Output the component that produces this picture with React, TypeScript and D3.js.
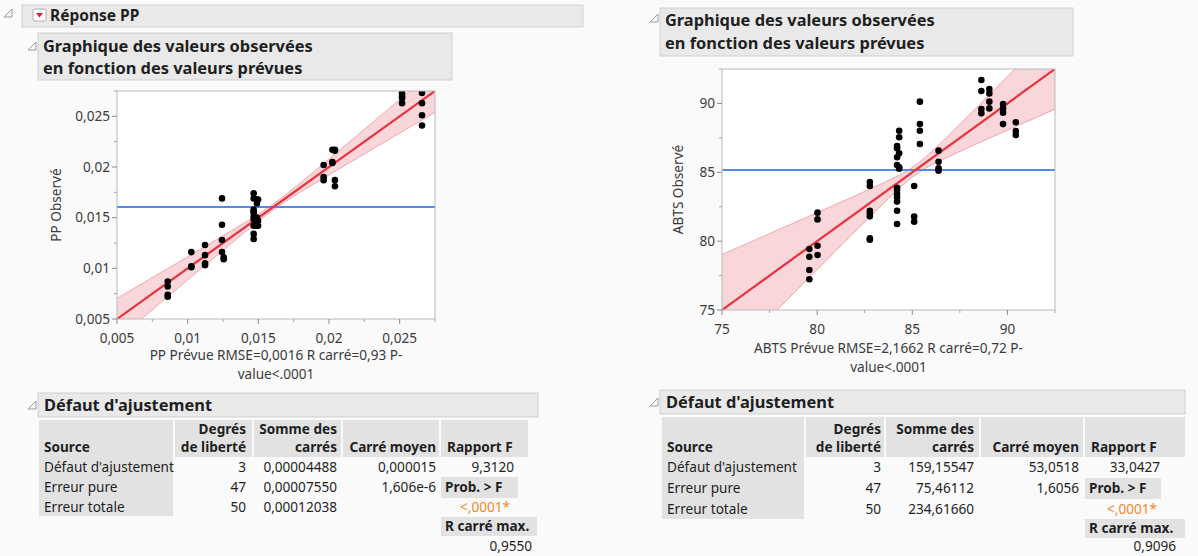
import React from "react";
import * as d3 from "d3";

// ---------- data ----------
const ppPredicted = [
  0.00859, 0.00859, 0.00859, 0.00859,
  0.01026, 0.01026, 0.01026,
  0.01123, 0.01123, 0.01123, 0.01123,
  0.01243, 0.01243, 0.01243, 0.01243, 0.01255, 0.01255,
  0.01467, 0.01467, 0.01467, 0.01467, 0.01467, 0.01467, 0.01467, 0.01467, 0.01467, 0.01467,
  0.0149, 0.0149, 0.0149, 0.0149, 0.0149,
  0.01498, 0.01498, 0.01498,
  0.01962, 0.01962, 0.01962,
  0.02024, 0.02024, 0.02024,
  0.02042, 0.02042, 0.02042, 0.02042,
  0.02517, 0.02517, 0.02517, 0.02517,
  0.02658, 0.02658, 0.02658, 0.02658,
];
const ppObserved = [
  0.0087, 0.0082, 0.0074, 0.0072,
  0.0116, 0.0101, 0.0102,
  0.0123, 0.0113, 0.0105, 0.0103,
  0.0169, 0.0143, 0.0128, 0.0116, 0.0111, 0.0109,
  0.0174, 0.0169, 0.0158, 0.0155, 0.0151, 0.0148, 0.0142, 0.0134, 0.0129, 0.0156,
  0.0168, 0.0164, 0.015, 0.0142, 0.0146,
  0.0168, 0.0142, 0.0147,
  0.0202, 0.019, 0.0187,
  0.0217, 0.0205, 0.0204,
  0.0217, 0.0216, 0.0187, 0.0181,
  0.0273, 0.027, 0.0268, 0.0263,
  0.0273, 0.0263, 0.0251, 0.0241,
];
const abtsPredicted = [
  79.59, 79.59, 79.59, 79.59,
  80.02, 80.02, 80.02, 80.02,
  82.77, 82.77, 82.77, 82.77, 82.77, 82.77, 82.77,
  84.2, 84.2, 84.2, 84.2, 84.2, 84.2, 84.2, 84.2, 84.2, 84.2, 84.2,
  84.31, 84.31, 84.31, 84.31, 84.31,
  85.1, 85.1, 85.1,
  85.4, 85.4, 85.4, 85.4,
  86.38, 86.38, 86.38, 86.38,
  88.63, 88.63, 88.63, 88.63,
  89.05, 89.05, 89.05, 89.05,
  89.77, 89.77, 89.77, 89.77,
  90.44, 90.44, 90.44,
];
const abtsObserved = [
  79.43, 78.87, 77.9, 77.23,
  82.07, 81.58, 79.67, 78.99,
  84.3, 84.0, 82.2, 82.0, 81.8, 80.2, 80.1,
  86.91, 86.74, 86.09, 85.53, 83.88, 83.71, 83.42, 83.18, 82.87, 82.21, 81.25,
  88.02, 87.54, 86.38, 85.36, 85.26,
  84.0, 81.78, 81.41,
  90.13, 88.5, 88.02, 87.05,
  86.57, 85.77, 85.29, 85.12,
  91.7, 90.9, 89.6, 89.28,
  91.05, 90.73, 90.13, 89.64,
  89.96, 89.64, 89.33, 88.5,
  88.63, 88.0, 87.71,
];
const ppTicks = [0.005, 0.01, 0.015, 0.02, 0.025];
const abtsTicks = [75, 80, 85, 90];
const ppMean = 0.01605;
const abtsMean = 85.16;

const lofSources = ["Défaut d'ajustement", "Erreur pure", "Erreur totale"];
const lofDF = ["3", "47", "50"];
const ppSS = ["0,00004488", "0,00007550", "0,00012038"];
const ppMS = ["0,000015", "1,606e-6", ""];
const ppStats = { F: "9,3120", prob: "<,0001*", rsqMax: "0,9550" };
const abtsSS = ["159,15547", "75,46112", "234,61660"];
const abtsMS = ["53,0518", "1,6056", ""];
const abtsStats = { F: "33,0427", prob: "<,0001*", rsqMax: "0,9096" };

// ---------- style ----------
const FONT = "'Noto Sans', 'Open Sans', sans-serif";
const TXT = "#1f1f1f";
const AX = "#3a3a3a";
const HEAD_BG = "#e9e9e9";
const HEAD_BORDER = "#cfcfcf";
const CELL_BG = "#e2e2e2";
const AXIS_FS = 13.6;
const TITLE_FS = 16.4;

const frFmt = (v: number) => d3.format("~g")(v).replace(".", ",");

function Disclosure({ x, y }: { x: number; y: number }) {
  return (
    <path
      d={`M${x + 8},${y} L${x + 8},${y + 8} L${x},${y + 8} Z`}
      fill="none"
      stroke="#9a9a9a"
      strokeWidth={1}
    />
  );
}

type PlotProps = {
  left: number; top: number; width: number; height: number;
  domain: [number, number];
  ticks: number[];
  pred: number[]; obs: number[];
  mean: number;
  band: { h0: number; k: number };
  yTitle: string;
  xTitle: string[];
  fmt: (v: number) => string;
  id: string;
  tickY: number; title1Y: number; title2Y: number; yTitleX: number;
};

function Plot(p: PlotProps) {
  const x = d3.scaleLinear().domain(p.domain).range([p.left, p.left + p.width]);
  const y = d3.scaleLinear().domain(p.domain).range([p.top + p.height, p.top]);
  const step = p.ticks[1] - p.ticks[0];
  const minor = d3.range(0, 12).map((i) => p.ticks[0] + step / 2 + i * step).filter((v) => v <= p.domain[1] + 1e-9);
  const xs = d3.range(0, 101).map((i) => p.domain[0] + (i / 100) * (p.domain[1] - p.domain[0]));
  // confidence curves around the fitted line
  const hw = (v: number) => Math.sqrt(p.band.h0 ** 2 + (p.band.k * (v - p.mean)) ** 2);
  const area = d3.area<number>().x((v) => x(v)).y0((v) => y(v - hw(v))).y1((v) => y(v + hw(v)));
  const upper = d3.line<number>().x((v) => x(v)).y((v) => y(v + hw(v)));
  const lower = d3.line<number>().x((v) => x(v)).y((v) => y(v - hw(v)));
  const bottom = p.top + p.height;
  const cx = p.left + p.width / 2;
  return (
    <g fontFamily={FONT}>
      <defs>
        <clipPath id={p.id}>
          <rect x={p.left} y={p.top} width={p.width} height={p.height} />
        </clipPath>
      </defs>
      <rect x={p.left} y={p.top} width={p.width} height={p.height} fill="#fff" />
      <g clipPath={`url(#${p.id})`}>
        <path d={area(xs) || ""} fill="#f9d6da" />
        <path d={upper(xs) || ""} fill="none" stroke="#f4a3ab" strokeWidth={1} />
        <path d={lower(xs) || ""} fill="none" stroke="#f4a3ab" strokeWidth={1} />
        <line x1={p.left} x2={p.left + p.width} y1={y(p.mean)} y2={y(p.mean)} stroke="#5587f0" strokeWidth={2} />
        <line x1={x(p.domain[0])} y1={y(p.domain[0])} x2={x(p.domain[1])} y2={y(p.domain[1])} stroke="#e8313c" strokeWidth={2.2} />
        {p.pred.map((v, i) => (
          <circle key={i} cx={x(v)} cy={y(p.obs[i])} r={3.3} fill="#000" />
        ))}
      </g>
      <rect x={p.left} y={p.top} width={p.width} height={p.height} fill="none" stroke="#b9b9b9" strokeWidth={1} />
      {p.ticks.map((t) => (
        <g key={"x" + t}>
          <line x1={x(t)} x2={x(t)} y1={bottom} y2={bottom + 5} stroke="#8a8a8a" />
          <text x={x(t)} y={p.tickY} textAnchor="middle" fontSize={AXIS_FS} fill={AX}>{p.fmt(t)}</text>
          <line x1={p.left - 5} x2={p.left} y1={y(t)} y2={y(t)} stroke="#8a8a8a" />
          <text x={p.left - 7} y={y(t) + 4.8} textAnchor="end" fontSize={AXIS_FS} fill={AX}>{p.fmt(t)}</text>
        </g>
      ))}
      {minor.map((t) => (
        <g key={"m" + t}>
          <line x1={x(t)} x2={x(t)} y1={bottom} y2={bottom + 3} stroke="#a5a5a5" />
          <line x1={p.left - 3} x2={p.left} y1={y(t)} y2={y(t)} stroke="#a5a5a5" />
        </g>
      ))}
      <text x={cx} y={p.title1Y} textAnchor="middle" fontSize={AXIS_FS} fill={AX}>{p.xTitle[0]}</text>
      <text x={cx} y={p.title2Y} textAnchor="middle" fontSize={AXIS_FS} fill={AX}>{p.xTitle[1]}</text>
      <text
        transform={`translate(${p.yTitleX},${p.top + p.height / 2}) rotate(-90)`}
        textAnchor="middle" fontSize={AXIS_FS} fill={AX}
      >{p.yTitle}</text>
    </g>
  );
}

type TableProps = {
  left: number; top: number; boxRight: number;
  // cell edges: source L, df L, ss L, ms L, F L, F header R, prob box R, R² max box R
  cols: number[];
  // right edges of text: df, ss, ms, F value, prob value, R² max value
  tr: number[];
  hTop: number; hBot: number; rowStep: number;
  ss: string[]; ms: string[];
  stats: { F: string; prob: string; rsqMax: string };
};

function LofTable(t: TableProps) {
  const [c0, c1, c2, c3, c4, c5, c6, c7] = t.cols;
  const [dfR, ssR, msR, fR, probR, rsqR] = t.tr;
  const { hTop, hBot, rowStep } = t;
  const rowY = [0, 1, 2].map((i) => hBot + 15 + i * rowStep);
  const bold = { fontWeight: 700 } as const;
  const hh = hBot - hTop;
  return (
    <g fontFamily={FONT} fontSize={13.6} fill={TXT}>
      <Disclosure x={t.left - 10} y={t.top + 8} />
      <rect x={t.left} y={t.top} width={t.boxRight - t.left} height={24} fill={HEAD_BG} stroke={HEAD_BORDER} />
      <text x={t.left + 6} y={t.top + 18} fontSize={TITLE_FS} style={bold}>Défaut d'ajustement</text>
      {/* header cells */}
      <rect x={c0} y={hTop} width={c1 - c0 - 2} height={hh} fill={CELL_BG} />
      <rect x={c1} y={hTop} width={c2 - c1 - 2} height={hh} fill={CELL_BG} />
      <rect x={c2} y={hTop} width={c3 - c2 - 2} height={hh} fill={CELL_BG} />
      <rect x={c3} y={hTop} width={c4 - c3 - 2} height={hh} fill={CELL_BG} />
      <rect x={c4} y={hTop} width={c5 - c4} height={hh} fill={CELL_BG} />
      <rect x={c0} y={hBot} width={c1 - c0 - 2} height={rowStep * 3 - 1} fill={CELL_BG} />
      <text x={c0 + 5} y={hBot - 5} style={bold}>Source</text>
      <text x={dfR} y={hBot - 23} textAnchor="end" style={bold}>Degrés</text>
      <text x={dfR} y={hBot - 5} textAnchor="end" style={bold}>de liberté</text>
      <text x={ssR} y={hBot - 23} textAnchor="end" style={bold}>Somme des</text>
      <text x={ssR} y={hBot - 5} textAnchor="end" style={bold}>carrés</text>
      <text x={msR} y={hBot - 5} textAnchor="end" style={bold}>Carré moyen</text>
      <text x={c4 + 6} y={hBot - 5} style={bold}>Rapport F</text>
      {lofSources.map((s, i) => (
        <g key={s}>
          <text x={c0 + 5} y={rowY[i]}>{s}</text>
          <text x={dfR} y={rowY[i]} textAnchor="end">{lofDF[i]}</text>
          <text x={ssR} y={rowY[i]} textAnchor="end">{t.ss[i]}</text>
          <text x={msR} y={rowY[i]} textAnchor="end">{t.ms[i]}</text>
        </g>
      ))}
      <text x={fR} y={rowY[0]} textAnchor="end">{t.stats.F}</text>
      <rect x={c4} y={rowY[1] - 15} width={c6 - c4} height={21} fill={CELL_BG} />
      <text x={c4 + 4} y={rowY[1]} style={bold}>Prob. &gt; F</text>
      <text x={probR} y={rowY[2]} textAnchor="end" fill="#ee8a2a">{t.stats.prob}</text>
      <rect x={c4} y={rowY[2] + 5} width={c7 - c4} height={19} fill={CELL_BG} />
      <text x={c4 + 4} y={rowY[2] + 19} style={bold}>R carré max.</text>
      <text x={rsqR} y={Math.min(rowY[2] + 39, 551)} textAnchor="end">{t.stats.rsqMax}</text>
    </g>
  );
}

export default function App() {
  return (
    <svg
      width={1198}
      height={556}
      style={{ position: "absolute", left: 0, top: 0, display: "block" }}
      fontFamily={FONT}
    >
      <rect width={1198} height={556} fill="#fafafa" />

      {/* left report */}
      <Disclosure x={4} y={9} />
      <rect x={22} y={5} width={561} height={22} fill={HEAD_BG} stroke={HEAD_BORDER} />
      <rect x={33} y={9} width={13} height={12} rx={2} fill="#fff" stroke="#b0b0b0" />
      <path d="M36,13 L43,13 L39.5,17.5 Z" fill="#d8232a" />
      <text x={50} y={21} fontSize={15.5} fontWeight={700} fill={TXT}>Réponse PP</text>

      <Disclosure x={28} y={42} />
      <rect x={38} y={33} width={414} height={47} fill={HEAD_BG} stroke={HEAD_BORDER} />
      <text x={43} y={52} fontSize={TITLE_FS} fontWeight={700} fill={TXT}>Graphique des valeurs observées</text>
      <text x={43} y={74} fontSize={TITLE_FS} fontWeight={700} fill={TXT}>en fonction des valeurs prévues</text>

      <Plot
        id="clipPP"
        left={117} top={91} width={318} height={228}
        domain={[0.005, 0.0275]} ticks={ppTicks}
        pred={ppPredicted} obs={ppObserved}
        mean={ppMean} band={{ h0: 0.0003, k: 0.182 }}
        yTitle="PP Observé"
        xTitle={["PP Prévue RMSE=0,0016 R carré=0,93 P-", "value<.0001"]}
        fmt={frFmt}
        tickY={343} title1Y={360} title2Y={379} yTitleX={61}
      />

      <LofTable
        left={38} top={393} boxRight={538}
        cols={[39, 175, 254, 343, 441, 528, 518, 537]}
        tr={[246, 337, 436, 514, 510, 532]}
        hTop={420} hBot={457} rowStep={20}
        ss={ppSS} ms={ppMS} stats={ppStats}
      />

      {/* right report */}
      <Disclosure x={650} y={14} />
      <rect x={660} y={8} width={413} height={48} fill={HEAD_BG} stroke={HEAD_BORDER} />
      <text x={665} y={26} fontSize={TITLE_FS} fontWeight={700} fill={TXT}>Graphique des valeurs observées</text>
      <text x={665} y={49} fontSize={TITLE_FS} fontWeight={700} fill={TXT}>en fonction des valeurs prévues</text>

      <Plot
        id="clipABTS"
        left={722} top={69} width={333} height={241}
        domain={[75, 92.5]} ticks={abtsTicks}
        pred={abtsPredicted} obs={abtsObserved}
        mean={abtsMean} band={{ h0: 0.35, k: 0.395 }}
        yTitle="ABTS Observé"
        xTitle={["ABTS Prévue RMSE=2,1662 R carré=0,72 P-", "value<.0001"]}
        fmt={(v) => String(v)}
        tickY={334} title1Y={353} title2Y={372} yTitleX={683}
      />

      <LofTable
        left={660} top={390} boxRight={1185}
        cols={[662, 806, 886, 981, 1085, 1185, 1161, 1185]}
        tr={[881, 974, 1079, 1160, 1157, 1176]}
        hTop={417} hBot={457} rowStep={21}
        ss={abtsSS} ms={abtsMS} stats={abtsStats}
      />
    </svg>
  );
}
